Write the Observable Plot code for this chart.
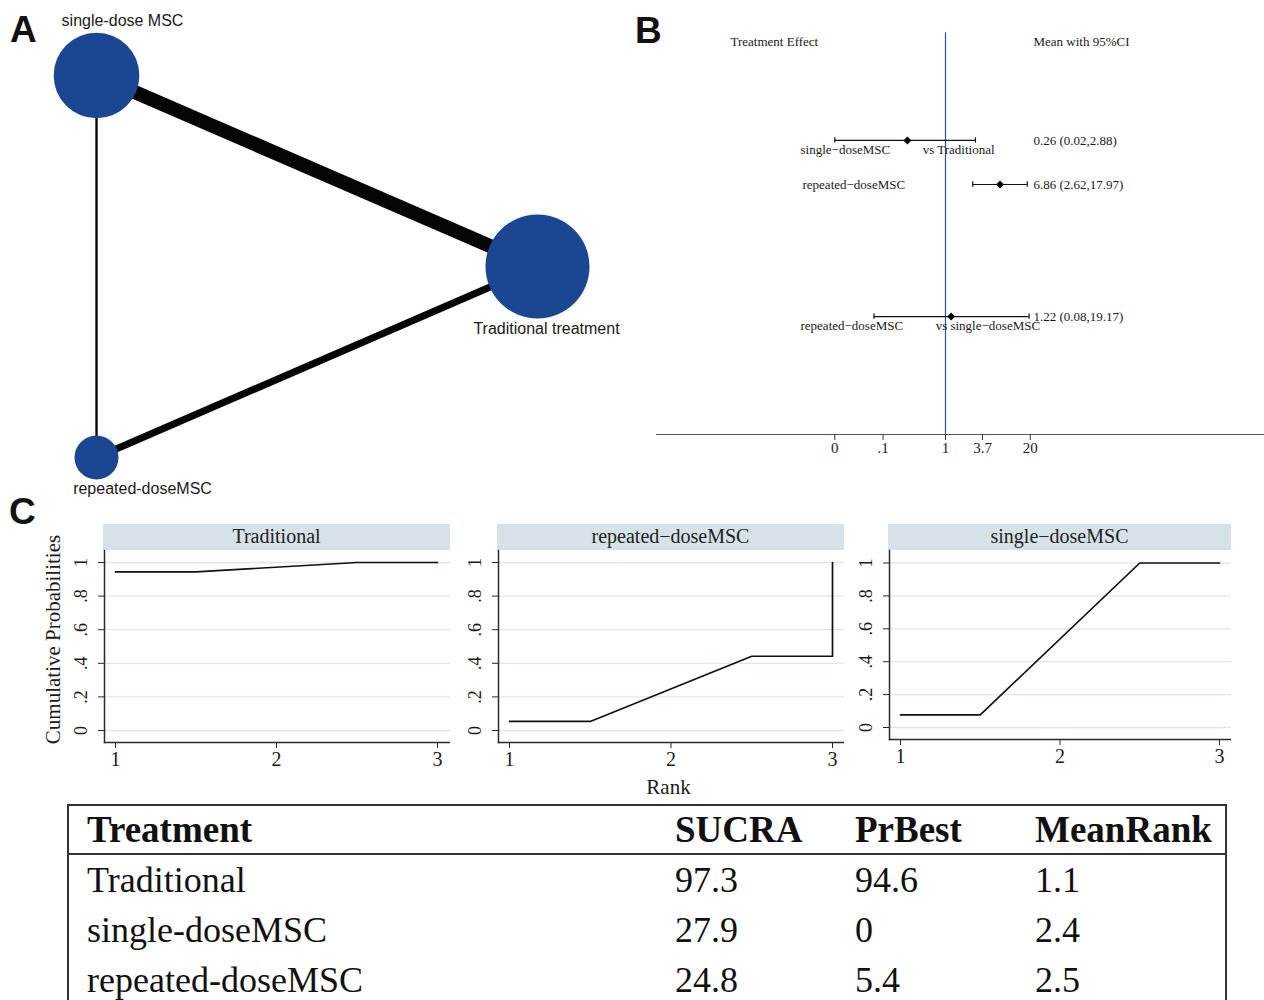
<!DOCTYPE html>
<html>
<head>
<meta charset="utf-8">
<script src="https://cdn.jsdelivr.net/npm/d3@7"></script>
<script src="https://cdn.jsdelivr.net/npm/@observablehq/plot@0.6"></script>
<style>
  body { margin: 0; background: #fff; }
  #fig { position: relative; width: 1264px; height: 1000px; overflow: hidden; background: #fff; }
  .letter { position: absolute; font: bold 37px "Liberation Sans", Arial, sans-serif; line-height: 1; color: #111; }
  .strip { position: absolute; background: #d6e2e7; font: 20px "Liberation Serif", "Times New Roman", serif;
           text-align: center; line-height: 24px; color: #222; }
  #rank-table { position: absolute; left: 67px; top: 804px; width: 1160px; border: 2px solid #333;
                border-bottom: none; box-sizing: border-box; font-family: "Liberation Serif", "Times New Roman", serif; color: #111; }
  #rank-table .row { display: grid; grid-template-columns: 598px 180px 180px auto; }
  #rank-table .head { font-weight: bold; font-size: 37px; height: 47px; line-height: 47px; border-bottom: 2px solid #333; }
  #rank-table .body { font-size: 36px; height: 50px; line-height: 50px; }
  #rank-table .row > div { padding-left: 8px; white-space: nowrap; }
  #rank-table .row > div:first-child { padding-left: 18px; }
</style>
</head>
<body>
<div id="fig"></div>
<script>
// ---------- A: treatment network ----------
const treatments = ["single-dose MSC", "Traditional treatment", "repeated-doseMSC"];
const nodeWeight = [3.8, 5.6, 1.0];            // relative node size
const edgeSource = ["single-dose MSC", "repeated-doseMSC", "single-dose MSC"];
const edgeTarget = ["Traditional treatment", "Traditional treatment", "repeated-doseMSC"];
const edgeStudies = [6, 3, 1];                 // number of direct comparisons

// ---------- B: network forest ----------
const compTreat = ["single−doseMSC", "repeated−doseMSC", "repeated−doseMSC"];
const compVs = ["vs Traditional", "", "vs single−doseMSC"];
const estimate = [0.26, 6.86, 1.22];
const lowerCI = [0.02, 2.62, 0.08];
const upperCI = [2.88, 17.97, 19.17];
const forestRow = [1, 2, 5];
const forestTicks = [0.02, 0.11, 1, 3.7, 20];
const forestTickLabels = ["0", ".1", "1", "3.7", "20"];

// ---------- C: cumulative ranking curves ----------
const rankPanels = ["Traditional", "repeated−doseMSC", "single−doseMSC"];
const tradRank = [1, 1.5, 2.5, 3];
const tradCum = [0.944, 0.944, 1, 1];
const repRank = [1, 1.5, 2.5, 3, 3];
const repCum = [0.054, 0.054, 0.442, 0.442, 1];
const singleRank = [1, 1.5, 2.5, 3];
const singleCum = [0.077, 0.077, 1, 1];
const probTicks = [0, 0.2, 0.4, 0.6, 0.8, 1];
const probTickLabels = ["0", ".2", ".4", ".6", ".8", "1"];
const rankTicks = [1, 2, 3];

// ---------- ranking table ----------
const tableHeader = ["Treatment", "SUCRA", "PrBest", "MeanRank"];
const tableTreat = ["Traditional", "single-doseMSC", "repeated-doseMSC"];
const sucra = [97.3, 27.9, 24.8];
const prBest = [94.6, 0, 5.4];
const meanRank = [1.1, 2.4, 2.5];

const fig = document.getElementById("fig");
const serif = "'Liberation Serif', 'Times New Roman', serif";
const sans = "'Liberation Sans', Arial, sans-serif";

function place(svg, left, top) {
  svg.style.position = "absolute";
  svg.style.left = left + "px";
  svg.style.top = top + "px";
  fig.appendChild(svg);
  return svg;
}

function letter(t, left, top) {
  const d = document.createElement("div");
  d.className = "letter";
  d.textContent = t;
  d.style.left = left + "px";
  d.style.top = top + "px";
  fig.appendChild(d);
}

// ===== Panel A =====
const nodes = treatments.map((name, i) => {
  const a = (120 - 120 * i) * Math.PI / 180;   // nodes evenly spaced on a circle
  return {name, weight: nodeWeight[i], x: Math.cos(a), y: Math.sin(a)};
});
const nodeByName = new Map(nodes.map(d => [d.name, d]));
const edges = edgeSource.map((s, i) => ({
  s: nodeByName.get(s), t: nodeByName.get(edgeTarget[i]), n: edgeStudies[i]
}));
const labelOffset = {
  "single-dose MSC": [26, -55],
  "Traditional treatment": [9, 62],
  "repeated-doseMSC": [46, 31]
};

place(Plot.plot({
  width: 640, height: 500,
  marginLeft: 96, marginRight: 103, marginTop: 75, marginBottom: 43,
  style: {background: "transparent", fontFamily: sans},
  x: {domain: [-0.5, 1], axis: null},
  y: {domain: [-Math.sin(Math.PI / 3), Math.sin(Math.PI / 3)], axis: null},
  r: {type: "sqrt", domain: [0, 5.6], range: [0, 52]},
  marks: [
    Plot.link(edges, {
      x1: d => d.s.x, y1: d => d.s.y, x2: d => d.t.x, y2: d => d.t.y,
      stroke: "#050505", strokeWidth: d => 2.35 * d.n
    }),
    Plot.dot(nodes, {x: "x", y: "y", r: "weight", fill: "#1a4692", stroke: null}),
    ...nodes.map(n => Plot.text([n], {
      x: "x", y: "y", text: "name",
      dx: labelOffset[n.name][0], dy: labelOffset[n.name][1],
      fontSize: 16, fill: "#1a1a1a"
    }))
  ]
}), 0, 0);
letter("A", 10, 11);

// ===== Panel B =====
const forest = estimate.map((e, i) => ({
  row: forestRow[i], est: e, lo: lowerCI[i], hi: upperCI[i],
  label: compVs[i] ? compTreat[i] + "\u00a0".repeat(10) + compVs[i] : compTreat[i],
  vs: compVs[i] !== "",
  value: `${e.toFixed(2)} (${lowerCI[i].toFixed(2)},${upperCI[i].toFixed(2)})`
}));
const yTop = -2.18, yBottom = 7.68, headerRow = -1.23;

place(Plot.plot({
  width: 608, height: 470,
  marginLeft: 0, marginRight: 0, marginTop: 0, marginBottom: 36,
  style: {background: "transparent", fontFamily: serif, fontSize: "13px", color: "#1a1a1a"},
  x: {type: "log", domain: [Math.exp(-289 / 28.3), Math.exp(319 / 28.3)]},
  y: {domain: [yTop, yBottom], reverse: true, axis: null},
  marks: [
    Plot.ruleY([yBottom], {stroke: "#555", strokeWidth: 1.2}),
    Plot.axisX({ticks: forestTicks, tickFormat: () => "", tickSize: 6, stroke: "#333", label: null}),
    Plot.text(forestTicks, {
      x: d => d, text: (d, i) => forestTickLabels[i],
      frameAnchor: "bottom", lineAnchor: "top", dy: 8, fontSize: 15
    }),
    Plot.ruleX([1], {y1: headerRow - 0.22, y2: yBottom, stroke: "#2d4fb3", strokeWidth: 1.2}),
    Plot.ruleY(forest, {x1: "lo", x2: "hi", y: "row", stroke: "#111", strokeWidth: 1.2}),
    Plot.ruleX(forest, {x: "lo", y1: d => d.row - 0.06, y2: d => d.row + 0.06, stroke: "#111", strokeWidth: 1.2}),
    Plot.ruleX(forest, {x: "hi", y1: d => d.row - 0.06, y2: d => d.row + 0.06, stroke: "#111", strokeWidth: 1.2}),
    Plot.dot(forest, {x: "est", y: "row", symbol: "diamond2", r: 3.6, fill: "#000", stroke: null}),
    Plot.text(forest, {filter: d => d.vs, y: "row", dy: 9, text: "label",
      frameAnchor: "left", dx: 144, textAnchor: "start", fontSize: 13}),
    Plot.text(forest, {filter: d => !d.vs, y: "row", text: "label",
      frameAnchor: "left", dx: 146, textAnchor: "start", fontSize: 13}),
    Plot.text(forest, {y: "row", text: "value",
      frameAnchor: "left", dx: 377, textAnchor: "start", fontSize: 13}),
    Plot.text(["Treatment Effect"], {y: () => headerRow, text: d => d,
      frameAnchor: "left", dx: 74, textAnchor: "start", fontSize: 13}),
    Plot.text(["Mean with 95%CI"], {y: () => headerRow, text: d => d,
      frameAnchor: "left", dx: 377, textAnchor: "start", fontSize: 13})
  ]
}), 656, 0);
letter("B", 635, 12);

// ===== Panel C =====
const curves = [
  {name: rankPanels[0], pts: tradRank.map((r, i) => ({rank: r, p: tradCum[i]}))},
  {name: rankPanels[1], pts: repRank.map((r, i) => ({rank: r, p: repCum[i]}))},
  {name: rankPanels[2], pts: singleRank.map((r, i) => ({rank: r, p: singleCum[i]}))}
];
// frame edges and data-edge insets of each small multiple
const panelBox = [
  {left: 104, right: 450, bottom: 742, inL: 11, inR: 13, inT: 12, inB: 12},
  {left: 498, right: 844, bottom: 742, inL: 11, inR: 12, inT: 12, inB: 12},
  {left: 889, right: 1231, bottom: 739, inL: 11, inR: 12, inT: 12.5, inB: 12}
];
const panelTop = 524, stripH = 26, svgH = 286, padL = 70;
const probLabel = new Map(probTicks.map((t, i) => [t, probTickLabels[i]]));

curves.forEach((c, k) => {
  const b = panelBox[k];
  const strip = document.createElement("div");
  strip.className = "strip";
  strip.textContent = c.name;
  Object.assign(strip.style, {
    left: (b.left - 1) + "px", top: panelTop + "px",
    width: (b.right - b.left + 1) + "px", height: stripH + "px"
  });
  fig.appendChild(strip);

  const extra = [];
  if (k === 0) extra.push(Plot.text(["Cumulative Probabilities"], {
    text: d => d, frameAnchor: "left", textAnchor: "middle", lineAnchor: "middle",
    rotate: -90, dx: -51, dy: -7, fontSize: 21
  }));
  if (k === 1) extra.push(Plot.text(["Rank"], {
    text: d => d, frameAnchor: "bottom", textAnchor: "middle", lineAnchor: "middle",
    dx: -3, dy: 45, fontSize: 21
  }));

  place(Plot.plot({
    width: padL + (b.right - b.left), height: svgH,
    marginLeft: padL, marginRight: 0, marginTop: stripH,
    marginBottom: svgH - (b.bottom - panelTop),
    style: {background: "transparent", fontFamily: serif, color: "#1a1a1a"},
    x: {domain: [1, 3], insetLeft: b.inL, insetRight: b.inR},
    y: {domain: [0, 1], insetTop: b.inT, insetBottom: b.inB},
    marks: [
      Plot.gridY(probTicks, {stroke: "#dce8ec", strokeOpacity: 1, strokeWidth: 1.3}),
      Plot.frame({anchor: "left", stroke: "#2a2a2a", strokeWidth: 1.5}),
      Plot.frame({anchor: "bottom", stroke: "#2a2a2a", strokeWidth: 1.5}),
      Plot.axisY({
        ticks: probTicks, tickFormat: d => probLabel.get(d), tickRotate: -90,
        tickSize: 6, tickPadding: 12, fontSize: 18, stroke: "#2a2a2a", label: null
      }),
      Plot.axisX({
        ticks: rankTicks, tickFormat: d => String(d),
        tickSize: 6, tickPadding: 3, fontSize: 20, stroke: "#2a2a2a", label: null
      }),
      Plot.line(c.pts, {x: "rank", y: "p", stroke: "#111", strokeWidth: 1.7}),
      ...extra
    ]
  }), b.left - padL, panelTop);
});
letter("C", 9, 493);

// ===== Ranking table =====
const table = document.createElement("div");
table.id = "rank-table";
const head = document.createElement("div");
head.className = "row head";
tableHeader.forEach(h => { const c = document.createElement("div"); c.textContent = h; head.appendChild(c); });
table.appendChild(head);
tableTreat.forEach((t, i) => {
  const r = document.createElement("div");
  r.className = "row body";
  [t, sucra[i], prBest[i], meanRank[i]].forEach(v => {
    const c = document.createElement("div"); c.textContent = String(v); r.appendChild(c);
  });
  table.appendChild(r);
});
fig.appendChild(table);
</script>
</body>
</html>
